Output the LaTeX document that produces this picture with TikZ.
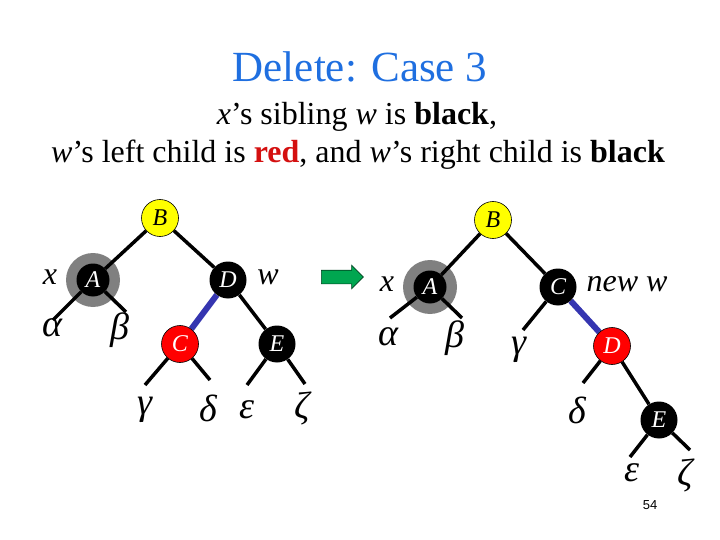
\documentclass[tikz,border=0pt]{standalone}
\usepackage{fontspec}
\setmainfont{Liberation Serif}
\newfontfamily\pagefont{Liberation Sans}
\usepackage{xcolor}
\usepackage{tikz}
\usetikzlibrary{positioning, arrows.meta, shapes.arrows, backgrounds}
\definecolor{titleblue}{HTML}{1F6FE0}
\definecolor{rbred}{HTML}{FF0000}
\definecolor{rbyellow}{HTML}{FFFF00}
\definecolor{ringgray}{HTML}{808080}
\definecolor{edgeblue}{HTML}{3535B0}
\definecolor{arrowgreen}{HTML}{00A650}
\definecolor{wordred}{HTML}{D41010}

\begin{document}
\begin{tikzpicture}[x=1pt, y=-1pt,
  rbnode/.style={circle, minimum size=37pt, inner sep=0pt, font=\fontsize{24}{26}\selectfont\itshape},
  blacknode/.style={rbnode, fill=black, text=white},
  rednode/.style={rbnode, fill=rbred, draw=black, line width=0.6pt, text=white},
  rootnode/.style={rbnode, fill=rbyellow, draw=black, line width=0.6pt},
  edge/.style={line width=3.5pt},
  greek/.style={font=\fontsize{38}{40}\selectfont\itshape},
  tag/.style={font=\fontsize{32}{34}\selectfont\itshape}]
  \useasboundingbox (0,0) rectangle (720,540);

  % heading
  \node[anchor=base, text=titleblue, font=\fontsize{43}{48}\selectfont] (title) at (360,82) {Delete: Case 3};
  \node[anchor=base, font=\fontsize{32}{36}\selectfont] (line1) at (357,125)
    {\textit{x}’s sibling \textit{w} is \textbf{black},};
  \node[anchor=base, font=\fontsize{32}{36}\selectfont] (line2) at (358,163)
    {\textit{w}’s left child is \textcolor{wordred}{\textbf{red}}, and \textit{w}’s right child is \textbf{black}};

  % tree before
  \node[rootnode] (lB) at (160,218) {B};
  \node[blacknode, minimum size=33pt] (lA) at (93,280) {A};
  \node[blacknode] (lD) at (228,280) {D};
  \node[rednode] (lC) at (180,344) {C};
  \node[blacknode] (lE) at (277,344) {E};
  \coordinate (la) at (53,320);
  \coordinate (lb) at (126,312);
  \coordinate (lg) at (145,385);
  \coordinate (ld) at (210,380);
  \coordinate (le) at (247,385);
  \coordinate (lz) at (305,384);
  \node[greek] (lalpha) at (52,328) {α};
  \node[greek] (lbeta) at (120,330) {β};
  \node[greek] (lgamma) at (145,410) {γ};
  \node[greek] (ldelta) at (208,408) {δ};
  \node[greek] (leps) at (247,410) {ε};
  \node[greek] (lzeta) at (302,408) {ζ};
  \node[tag] (lx) at (50,277) {x};
  \node[tag] (lw) at (268,277) {w};

  % rotation arrow
  \node[single arrow, fill=arrowgreen, draw=black!60!arrowgreen, line width=0.6pt,
        minimum height=42pt, inner xsep=0pt, inner ysep=6.5pt,
        single arrow head extend=5pt] (shift) at (339,277) {};

  % tree after
  \node[rootnode] (rB) at (493,220) {B};
  \node[blacknode, minimum size=33pt] (rA) at (430,287) {A};
  \node[blacknode] (rC) at (558,287) {C};
  \node[rednode] (rD) at (612,346) {D};
  \node[blacknode] (rE) at (659,420) {E};
  \coordinate (ra) at (390,318);
  \coordinate (rb) at (462,318);
  \coordinate (rg) at (523,330);
  \coordinate (rd) at (583,383);
  \coordinate (re) at (630,457);
  \coordinate (rz) at (690,450);
  \node[greek] (ralpha) at (388,337) {α};
  \node[greek] (rbeta) at (455,338) {β};
  \node[greek] (rgamma) at (519,350) {γ};
  \node[greek] (rdelta) at (577,410) {δ};
  \node[greek] (reps) at (632,473) {ε};
  \node[greek] (rzeta) at (685,475) {ζ};
  \node[tag] (rx) at (387,284) {x};
  \node[tag] (rw) at (627,284) {new w};

  \node[font=\pagefont\fontsize{13}{14}\selectfont] (page) at (650,505) {54};

  \begin{scope}[on background layer]
    \fill[ringgray] (lA) circle (27);
    \fill[ringgray] (rA) circle (27);
    \draw[edge] (lB) -- (lA);
    \draw[edge] (lB) -- (lD);
    \draw[edge] (lD) -- (lE);
    \draw[edge, edgeblue, line width=6pt] (lD) -- (lC);
    \draw[edge] (lA) -- (la);
    \draw[edge] (lA) -- (lb);
    \draw[edge] (lC) -- (lg);
    \draw[edge] (lC) -- (ld);
    \draw[edge] (lE) -- (le);
    \draw[edge] (lE) -- (lz);
    \draw[edge] (rB) -- (rA);
    \draw[edge] (rB) -- (rC);
    \draw[edge, edgeblue, line width=6pt] (rC) -- (rD);
    \draw[edge] (rD) -- (rE);
    \draw[edge] (rA) -- (ra);
    \draw[edge] (rA) -- (rb);
    \draw[edge] (rC) -- (rg);
    \draw[edge] (rD) -- (rd);
    \draw[edge] (rE) -- (re);
    \draw[edge] (rE) -- (rz);
  \end{scope}
\end{tikzpicture}
\end{document}
